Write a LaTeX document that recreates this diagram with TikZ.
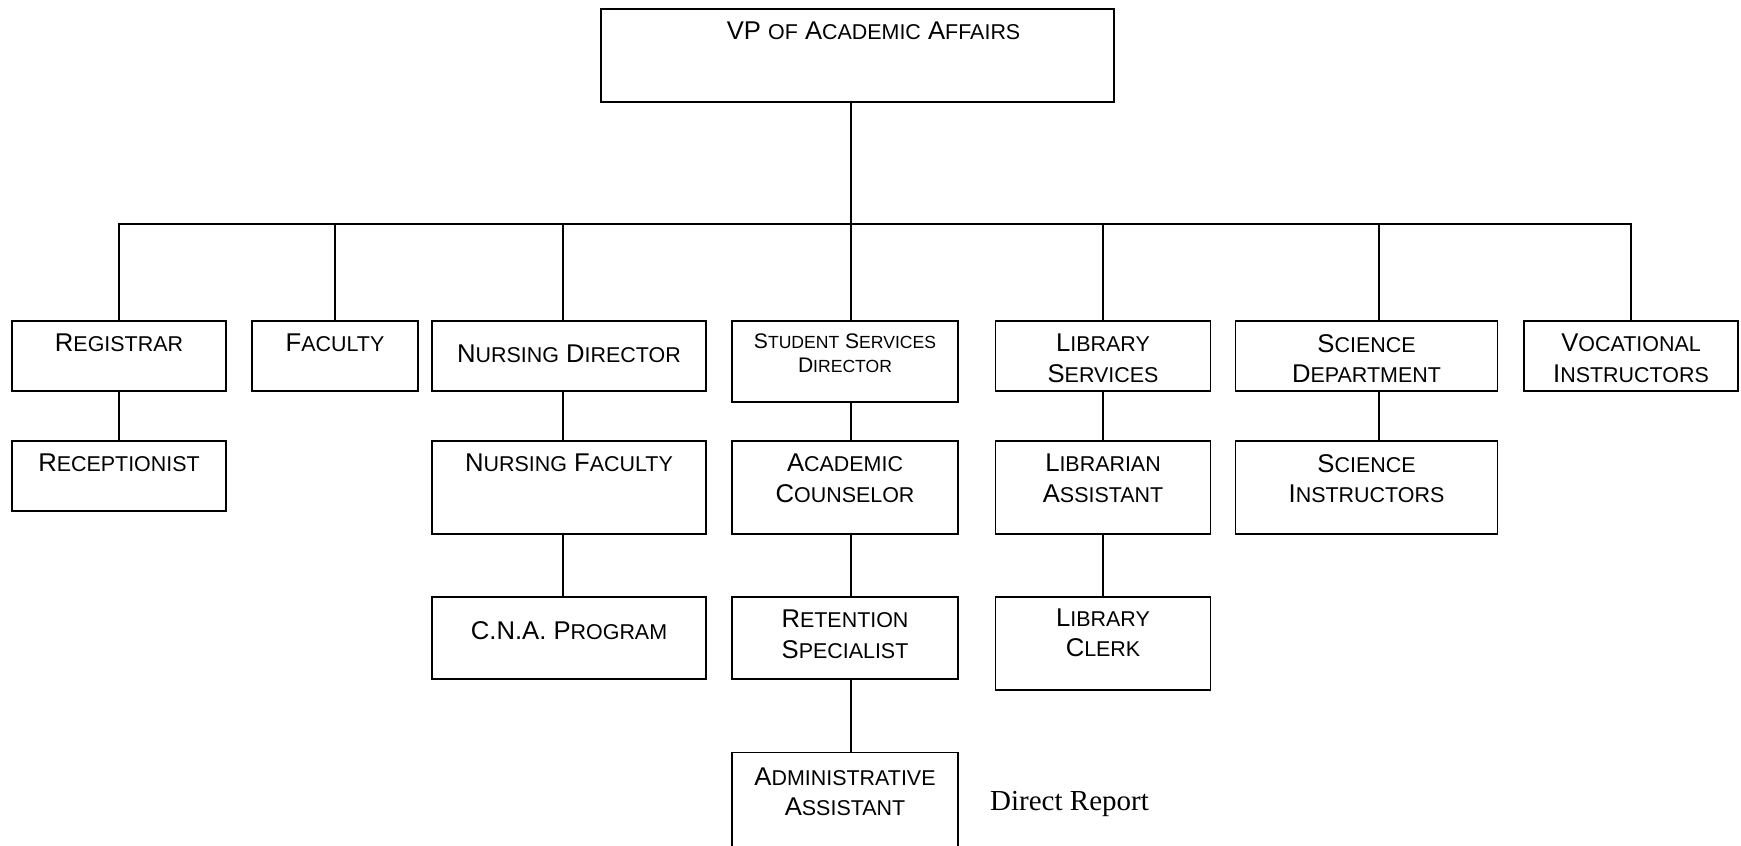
\documentclass[tikz,border=0pt]{standalone}
\usepackage{fontspec}
\setmainfont{Liberation Sans}
\newfontfamily\notefont{Liberation Serif}
\usetikzlibrary{positioning}

\newcommand\lowcap[1]{{\fontsize{12.2}{17.4}\selectfont\MakeUppercase{#1}}}
\newcommand\lowcapsm[1]{{\fontsize{10}{14}\selectfont\MakeUppercase{#1}}}

\begin{document}
\begin{tikzpicture}[
    unit/.style={rectangle, draw, line width=1.1pt, inner sep=0pt},
    short/.style={unit, minimum height=1.41cm},
    tall/.style={unit, minimum height=1.87cm},
    mid/.style={unit, minimum height=1.65cm},
    title/.style={anchor=north, yshift=-0.28cm, align=center, inner sep=0pt,
      font=\fontsize{14.6}{17.4}\selectfont},
    link/.style={line width=1pt}]

  \useasboundingbox (0,0) rectangle (34.82,16.92);
  \clip (0,0) rectangle (34.82,16.92);

  \node[unit, minimum width=10.27cm, minimum height=1.87cm,
    label={[title, xshift=0.32cm]north:{VP \lowcap{of} A\lowcap{cademic} A\lowcap{ffairs}}}]
    (vp) at (17.15,15.81) {};
  \coordinate (bus) at (17.02,12.44);

  % first level
  \node[short, minimum width=4.29cm, label={[title]north:{R\lowcap{egistrar}}}] (reg) at (2.38,9.80) {};
  \node[short, minimum width=3.33cm, label={[title]north:{F\lowcap{aculty}}}] (fac) at (6.70,9.80) {};
  \node[short, minimum width=5.49cm, label={[title, yshift=-0.22cm]north:{N\lowcap{ursing} D\lowcap{irector}}}] (nd) at (11.38,9.80) {};
  \node[unit, minimum width=4.52cm, minimum height=1.63cm,
    label={[title, yshift=0.01cm, font=\fontsize{12}{14}\selectfont]north:{S\lowcapsm{tudent} S\lowcapsm{ervices}\\D\lowcapsm{irector}}}]
    (ssd) at (16.90,9.69) {};
  \node[short, minimum width=4.30cm, label={[title]north:{L\lowcap{ibrary}\\S\lowcap{ervices}}}] (lib) at (22.06,9.80) {};
  \node[short, minimum width=5.24cm, label={[title]north:{S\lowcap{cience}\\D\lowcap{epartment}}}] (sci) at (27.33,9.80) {};
  \node[short, minimum width=4.29cm, label={[title]north:{V\lowcap{ocational}\\I\lowcap{nstructors}}}] (voc) at (32.62,9.80) {};

  % second level
  \node[short, minimum width=4.29cm, label={[title]north:{R\lowcap{eceptionist}}}] (rec) at (2.38,7.40) {};
  \node[tall, minimum width=5.49cm, label={[title]north:{N\lowcap{ursing} F\lowcap{aculty}}}] (nf) at (11.38,7.17) {};
  \node[tall, minimum width=4.52cm, label={[title]north:{A\lowcap{cademic}\\C\lowcap{ounselor}}}] (ac) at (16.90,7.17) {};
  \node[tall, minimum width=4.30cm, label={[title]north:{L\lowcap{ibrarian}\\A\lowcap{ssistant}}}] (la) at (22.06,7.17) {};
  \node[tall, minimum width=5.24cm, label={[title]north:{S\lowcap{cience}\\I\lowcap{nstructors}}}] (si) at (27.33,7.17) {};

  % third level
  \node[mid, minimum width=5.49cm, label={[title, yshift=-0.22cm]north:{C.N.A. P\lowcap{rogram}}}] (cna) at (11.38,4.16) {};
  \node[mid, minimum width=4.52cm, label={[title]north:{R\lowcap{etention}\\S\lowcap{pecialist}}}] (rs) at (16.90,4.16) {};
  \node[tall, minimum width=4.30cm, label={[title, yshift=0.03cm]north:{L\lowcap{ibrary}\\C\lowcap{lerk}}}] (lc) at (22.06,4.05) {};

  \node[unit, minimum width=4.52cm, minimum height=2.4cm,
    label={[title, yshift=-0.03cm]north:{A\lowcap{dministrative}\\A\lowcap{ssistant}}}]
    (aa) at (16.90,0.67) {};
  \node[anchor=base west, font=\notefont\fontsize{16.5}{19}\selectfont] (note) at (19.68,0.70) {Direct Report};

  % lines
  \draw[link] ([xshift=-0.13cm]vp.south) -- (bus);
  \draw[link] (bus) -| (reg.north);
  \draw[link] (bus) -| (fac.north);
  \draw[link] (bus) -| ([xshift=-0.12cm]nd.north);
  \draw[link] (bus) -- (bus |- ssd.north);
  \draw[link] (bus) -| (lib.north);
  \draw[link] (bus) -| ([xshift=0.25cm]sci.north);
  \draw[link] (bus) -| (voc.north);

  \draw[link] (reg) -- (rec);
  \draw[link] ([xshift=-0.12cm]nd.south) -- ([xshift=-0.12cm]nf.north);
  \draw[link] ([xshift=-0.12cm]nf.south) -- ([xshift=-0.12cm]cna.north);
  \draw[link] (ssd.south -| bus) -- (ac.north -| bus);
  \draw[link] (ac.south -| bus) -- (rs.north -| bus);
  \draw[link] (rs.south -| bus) -- (aa.north -| bus);
  \draw[link] (lib) -- (la);
  \draw[link] (la) -- (lc);
  \draw[link] ([xshift=0.25cm]sci.south) -- ([xshift=0.25cm]si.north);

\end{tikzpicture}
\end{document}
